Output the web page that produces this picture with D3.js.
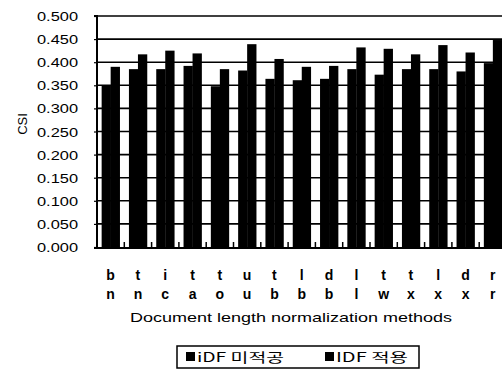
<!DOCTYPE html>
<html>
<head>
<meta charset="utf-8">
<script src="https://cdn.jsdelivr.net/npm/d3@7"></script>
<style>
  html, body { margin: 0; padding: 0; background: #fff; }
  svg { display: block; }
  text { font-family: "Liberation Sans", Arial, sans-serif; fill: #000; }
</style>
</head>
<body>
<script>
// ---- data ----
const labelsTop    = ["b","t","i","t","t","u","t","l","d","l","t","t","l","d","r"];
const labelsBottom = ["n","n","c","a","o","u","b","b","b","l","w","x","x","x","r"];
const seriesNames  = ["iDF 미적공", "IDF 적용"];
const noIdf   = [0.350,0.385,0.385,0.392,0.348,0.382,0.364,0.361,0.364,0.385,0.373,0.385,0.385,0.380,0.398];
const withIdf = [0.390,0.417,0.425,0.419,0.385,0.439,0.407,0.390,0.392,0.432,0.429,0.417,0.437,0.421,0.448];
const yTicks  = [0,0.05,0.1,0.15,0.2,0.25,0.3,0.35,0.4,0.45,0.5];
const yTitle  = "CSI";
const xTitle  = "Document length normalization methods";

// ---- layout ----
const W = 502, H = 374;
const pLeft = 97, pTop = 16, pBottom = 247, plotW = 409.5;
const svg = d3.select("body").append("svg").attr("width", W).attr("height", H);

const idx = d3.range(labelsTop.length);
const x = d3.scaleBand().domain(idx).range([pLeft, pLeft + plotW])
  .paddingInner(0.34).paddingOuter(0.17);
const xs = d3.scaleBand().domain([0,1]).range([0, x.bandwidth()]).padding(0);
const y = d3.scaleLinear().domain([0, 0.5]).range([pBottom, pTop]);

// gridlines
svg.append("g").selectAll("line").data(yTicks.filter(d => d > 0)).join("line")
  .attr("x1", pLeft).attr("x2", W)
  .attr("y1", d => y(d)).attr("y2", d => y(d))
  .attr("stroke", "#000").attr("stroke-width", 1.6);

// bars
const series = [noIdf, withIdf];
const g = svg.append("g");
series.forEach((vals, s) => {
  g.selectAll(null).data(vals).join("rect")
    .attr("x", (d, i) => x(i) + xs(s))
    .attr("width", xs.bandwidth() + 0.3)
    .attr("y", d => y(d))
    .attr("height", d => y(0) - y(d))
    .attr("fill", "#000");
});

// y axis
const yAxis = d3.axisLeft(y).tickValues(yTicks).tickSize(3).tickFormat(d3.format(".3f"));
const ya = svg.append("g").attr("transform", `translate(${pLeft},0)`).call(yAxis);
ya.select(".domain").attr("stroke-width", 2).attr("d", `M-3,${pTop}H0V${pBottom + 1}H-3`);
ya.selectAll(".tick line").attr("stroke-width", 1.2);
ya.selectAll(".tick text")
  .attr("x", -19).attr("dy", "0.36em")
  .style("font-size", "12.5px")
  .attr("text-anchor", "end")
  .attr("textLength", 41).attr("lengthAdjust", "spacingAndGlyphs");

// x axis line & boundary ticks
svg.append("line").attr("x1", pLeft - 1).attr("x2", W).attr("y1", pBottom + 1).attr("y2", pBottom + 1)
  .attr("stroke", "#000").attr("stroke-width", 2.2);
const bounds = idx.slice(1).map(i => x(i) - x.step() * x.paddingInner() / 2);
svg.append("g").selectAll("line").data(bounds).join("line")
  .attr("x1", d => d).attr("x2", d => d)
  .attr("y1", pBottom + 1).attr("y2", pBottom - 5)
  .attr("stroke", "#000").attr("stroke-width", 1.5);

// category labels (two rows)
const lab = svg.append("g").style("font-size", "14px").style("font-weight", "bold");
lab.selectAll(null).data(labelsTop).join("text")
  .attr("x", (d, i) => x(i) + x.bandwidth() / 2).attr("y", 280)
  .attr("text-anchor", "middle").text(d => d);
lab.selectAll(null).data(labelsBottom).join("text")
  .attr("x", (d, i) => x(i) + x.bandwidth() / 2).attr("y", 299)
  .attr("text-anchor", "middle").text(d => d);

// axis titles
svg.append("text").attr("x", 130).attr("y", 322)
  .style("font-size", "13.5px")
  .attr("textLength", 322).attr("lengthAdjust", "spacingAndGlyphs")
  .text(xTitle);
svg.append("text").attr("transform", "translate(27,124) rotate(-90)")
  .attr("text-anchor", "middle").style("font-size", "13px")
  .text(yTitle);

// legend
const lg = svg.append("g");
lg.append("rect").attr("x", 177).attr("y", 346).attr("width", 242).attr("height", 22)
  .attr("fill", "none").attr("stroke", "#000").attr("stroke-width", 1.5);
const legX = [186, 325], legTextW = [87, 72];
seriesNames.forEach((n, i) => {
  lg.append("rect").attr("x", legX[i]).attr("y", 352).attr("width", 9).attr("height", 9).attr("fill", "#000");
  lg.append("text").attr("x", legX[i] + 11).attr("y", 362)
    .style("font-size", "13px")
    .style("font-family", "'Noto Sans CJK KR', 'Liberation Sans', sans-serif")
    .attr("textLength", legTextW[i]).attr("lengthAdjust", "spacingAndGlyphs")
    .text(n);
});
</script>
</body>
</html>
